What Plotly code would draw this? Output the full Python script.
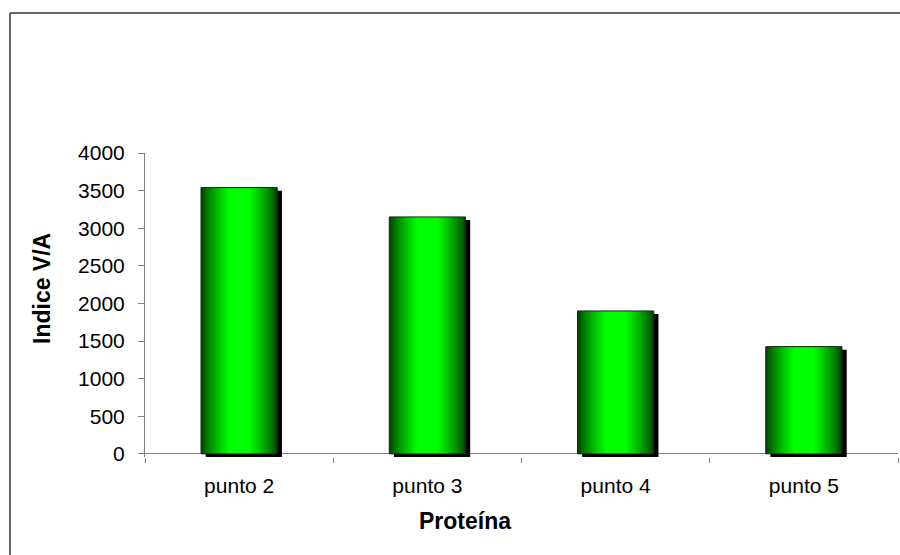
import plotly.graph_objects as go

categories = ["punto 2", "punto 3", "punto 4", "punto 5"]
values = [3540, 3150, 1900, 1425]
y_ticks = [0, 500, 1000, 1500, 2000, 2500, 3000, 3500, 4000]
x_title = "Proteína"
y_title = "Indice V/A"

FONT = "Liberation Sans, Arial, sans-serif"
BAR_W = 0.405
SHADOW_DX = 0.025   # category units
SHADOW_DY = 42      # value units

fig = go.Figure()

# shadow
fig.add_trace(go.Bar(
    x=categories, y=values, base=[-SHADOW_DY] * len(values),
    width=BAR_W, offset=-BAR_W / 2 + SHADOW_DX,
    marker=dict(color="#000000", line=dict(width=0)),
    hoverinfo="skip", showlegend=False,
))

# horizontal gradient: nested bars, dark edges -> bright centre
def lerp(a, b, t):
    return int(round(a + (b - a) * t))

N = 16
dark = (0, 70, 0)
bright = (0, 255, 0)
for k in range(N + 1):
    t = k / N
    frac = 1.0 - 0.72 * t
    tc = t ** 0.8
    col = "rgb(%d,%d,%d)" % tuple(lerp(dark[i], bright[i], tc) for i in range(3))
    w = BAR_W * frac
    fig.add_trace(go.Bar(
        x=categories, y=values, width=w, offset=-w / 2,
        marker=dict(color=col, line=dict(width=0)),
        hoverinfo="skip", showlegend=False,
    ))

# outline
fig.add_trace(go.Bar(
    x=categories, y=values, width=BAR_W, offset=-BAR_W / 2,
    marker=dict(color="rgba(0,0,0,0)", line=dict(color="#222222", width=1)),
    hovertemplate="%{x}: %{y}<extra></extra>", showlegend=False,
))

plot_left, plot_right = 145, 898
plot_top, plot_bottom = 153, 457
pw = plot_right - plot_left
ph = plot_bottom - plot_top

def px(x):
    return (x - plot_left) / pw

def py(y):
    return (plot_bottom - y) / ph

border = dict(color="#333333", width=1.5)

fig.update_layout(
    width=900, height=555,
    margin=dict(l=plot_left, r=900 - plot_right, t=plot_top, b=555 - plot_bottom, pad=0),
    paper_bgcolor="white", plot_bgcolor="white",
    barmode="overlay",
    font=dict(family=FONT, size=21, color="#000000"),
    showlegend=False,
    xaxis=dict(
        type="category", tickson="boundaries", ticks="outside", ticklen=5,
        tickcolor="#808080", showline=False, showgrid=False, zeroline=False,
        tickfont=dict(size=21), ticklabelstandoff=14,
    ),
    yaxis=dict(
        range=[-SHADOW_DY, 4000], tickvals=y_ticks, ticks="outside", ticklen=6,
        tickcolor="#808080", showline=True, linecolor="#808080", linewidth=1,
        showgrid=False, zeroline=True, zerolinecolor="#808080", zerolinewidth=1,
        tickfont=dict(size=21), ticklabelstandoff=9,
    ),
    shapes=[
        dict(type="line", xref="paper", yref="paper",
             x0=px(10), x1=px(920), y0=py(13), y1=py(13), line=border, layer="above"),
        dict(type="line", xref="paper", yref="paper",
             x0=px(10), x1=px(10), y0=py(13), y1=py(575), line=border, layer="above"),
    ],
    annotations=[
        dict(text="<b>%s</b>" % y_title, xref="paper", yref="paper",
             x=px(42), y=py(289), textangle=-90, showarrow=False,
             font=dict(size=23, family=FONT), xanchor="center", yanchor="middle"),
        dict(text="<b>%s</b>" % x_title, xref="paper", yref="paper",
             x=px(465), y=py(521), showarrow=False,
             font=dict(size=23, family=FONT), xanchor="center", yanchor="middle"),
    ],
)

fig.write_html(
    "out.html",
    config={"displayModeBar": False},
    post_script="document.documentElement.style.overflow='hidden';document.body.style.margin='0';document.body.style.overflow='hidden';",
)
